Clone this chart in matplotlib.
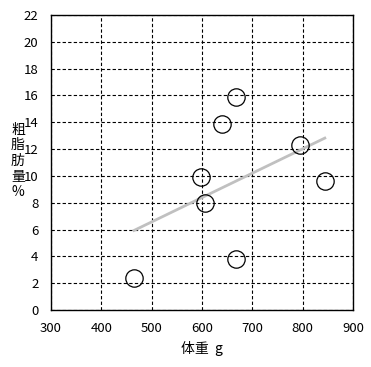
import numpy as np
import matplotlib.pyplot as plt

plt.rcParams['font.family'] = ['Noto Sans CJK JP', 'DejaVu Sans']

# 体重 g と 粗脂肪量 %
weight = [465, 668, 639, 794, 599, 844, 605, 668]
fat = [2.35, 15.9, 13.9, 12.3, 9.95, 9.65, 8.0, 3.8]

xticks = [300, 400, 500, 600, 700, 800, 900]
yticks = list(range(0, 23, 2))

fig = plt.figure(figsize=(3.71, 3.67), dpi=100)
ax = fig.add_axes([51/371, 1 - 310/367, 302/371, 295/367])

ax.grid(True, color='black', linestyle=(0, (3, 2)), linewidth=0.8)
ax.set_axisbelow(True)

# 回帰直線
k, b = np.polyfit(weight, fat, 1)
xl = np.array([min(weight), max(weight)])
ax.plot(xl, k * xl + b, color='#c0c0c0', linewidth=2, zorder=2)

ax.plot(weight, fat, 'o', markersize=12.5, markerfacecolor='none',
        markeredgecolor='black', markeredgewidth=0.9, zorder=3)

ax.set_xlim(300, 900)
ax.set_ylim(0, 22)
ax.set_xticks(xticks)
ax.set_yticks(yticks)
ax.tick_params(length=0, labelsize=9.5)
ax.tick_params(axis='y', pad=9)
ax.tick_params(axis='x', pad=9)
for s in ax.spines.values():
    s.set_linewidth(1)

ax.set_xlabel('体重  g', fontsize=10, labelpad=4)
fig.text(18/371, 1 - 161/367, '粗\n脂\n肪\n量\n%', ha='center', va='center',
         fontsize=10, linespacing=1.15)

fig.savefig('out.png', dpi=100)
